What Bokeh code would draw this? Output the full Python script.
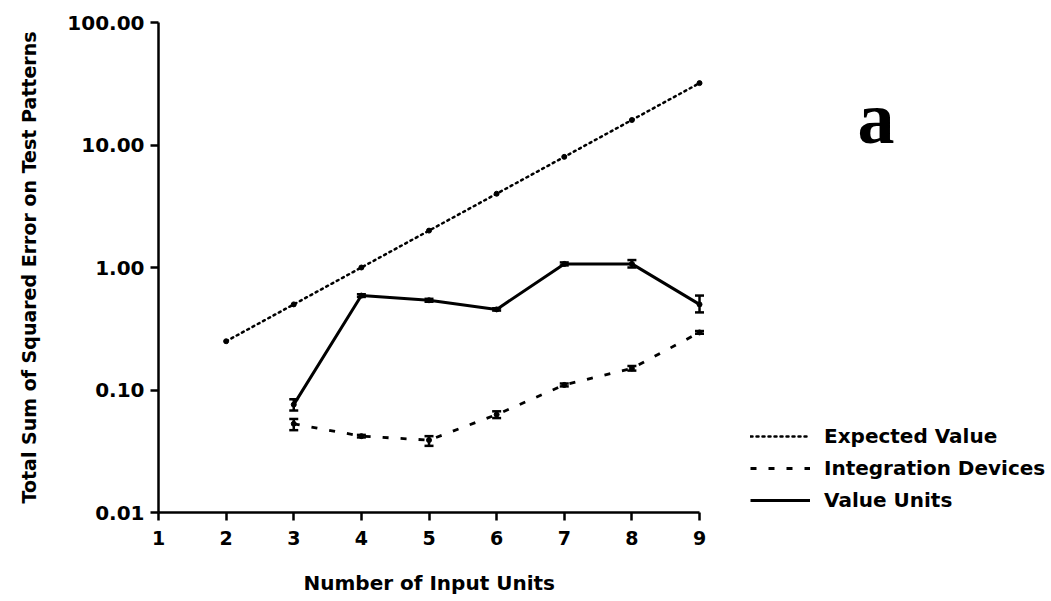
from bokeh.plotting import figure
from bokeh.models import (Range1d, FixedTicker, NumeralTickFormatter, Legend, LegendItem,
                          Label, Whisker, ColumnDataSource, TeeHead, Title)
from bokeh.embed import file_html
from bokeh.resources import INLINE

# ---- data ----
expected_x = [2, 3, 4, 5, 6, 7, 8, 9]
expected_y = [0.25, 0.5, 1.0, 2.0, 4.0, 8.0, 16.0, 32.0]

units_x = [3, 4, 5, 6, 7, 8, 9]
integration_y = [0.053, 0.042, 0.039, 0.063, 0.11, 0.15, 0.295]
integration_lo = [0.047, 0.041, 0.035, 0.059, 0.107, 0.144, 0.288]
integration_hi = [0.058, 0.043, 0.042, 0.067, 0.113, 0.157, 0.303]

value_y = [0.076, 0.59, 0.54, 0.455, 1.07, 1.07, 0.5]
value_lo = [0.068, 0.575, 0.525, 0.445, 1.04, 1.0, 0.43]
value_hi = [0.084, 0.605, 0.555, 0.465, 1.1, 1.15, 0.59]

x_ticks = [1, 2, 3, 4, 5, 6, 7, 8, 9]
y_ticks = [0.01, 0.1, 1, 10, 100]

FONT = "DejaVu Sans"

p = figure(width=1051, height=601, y_axis_type="log",
           x_range=Range1d(1, 14.116), y_range=Range1d(0.01, 100),
           output_backend="svg", toolbar_location=None,
           min_border_left=158, min_border_right=6, min_border_top=22, min_border_bottom=88)
p.outline_line_color = None
p.xgrid.visible = False
p.ygrid.visible = False
p.background_fill_color = "white"
p.border_fill_color = "white"

for ax in (p.xaxis[0], p.yaxis[0]):
    ax.axis_line_width = 2.5
    ax.axis_line_color = "black"
    ax.major_tick_line_width = 2.5
    ax.major_tick_out = 8
    ax.major_tick_in = 0
    ax.minor_tick_out = 0
    ax.minor_tick_in = 0
    ax.major_label_text_font = FONT
    ax.major_label_text_font_style = "bold"
    ax.major_label_text_color = "black"
    ax.major_label_text_font_size = "19px"

p.xaxis.ticker = FixedTicker(ticks=x_ticks)
p.xaxis.bounds = (1, 9)
p.xaxis.major_label_standoff = 10
# small blank spacer label so the title below sits lower
p.xaxis.axis_label = " "
p.xaxis.axis_label_text_font_size = "10px"
p.xaxis.axis_label_standoff = 0

p.yaxis.ticker = FixedTicker(ticks=y_ticks)
p.yaxis.formatter = NumeralTickFormatter(format="0.00")
p.yaxis.major_label_text_font_size = "20px"
p.yaxis.major_label_standoff = 6
p.yaxis.axis_label = "Total Sum of Squared Error on Test Patterns"
p.yaxis.axis_label_text_font = FONT
p.yaxis.axis_label_text_font_style = "bold"
p.yaxis.axis_label_text_font_size = "19px"
p.yaxis.axis_label_text_color = "black"
p.yaxis.axis_label_standoff = 24

# series
r_exp = p.line(expected_x, expected_y, line_color="black", line_width=2.5,
               line_dash="2 4", line_cap="round")
p.scatter(expected_x, expected_y, size=5, color="black")

r_int = p.line(units_x, integration_y, line_color="black", line_width=2.8, line_dash="6 12")
p.scatter(units_x, integration_y, size=5, color="black")

r_val = p.line(units_x, value_y, line_color="black", line_width=3)
p.scatter(units_x, value_y, size=5, color="black")

src_i = ColumnDataSource(dict(x=units_x, lo=integration_lo, hi=integration_hi))
src_v = ColumnDataSource(dict(x=units_x, lo=value_lo, hi=value_hi))
for src in (src_i, src_v):
    w = Whisker(source=src, base="x", lower="lo", upper="hi",
                line_color="black", line_width=2.5,
                upper_head=TeeHead(size=9, line_width=2.5, line_color="black"),
                lower_head=TeeHead(size=9, line_width=2.5, line_color="black"))
    p.add_layout(w)

legend = Legend(items=[
    LegendItem(label="Expected Value", renderers=[r_exp]),
    LegendItem(label="Integration Devices", renderers=[r_int]),
    LegendItem(label="Value Units", renderers=[r_val]),
], location=(592, 0))
legend.label_text_font = FONT
legend.label_text_font_style = "bold"
legend.label_text_font_size = "20px"
legend.label_text_color = "black"
legend.glyph_width = 60
legend.glyph_height = 20
legend.label_standoff = 14
legend.spacing = 8
legend.padding = 0
legend.margin = 0
legend.border_line_color = None
legend.background_fill_alpha = 0
p.add_layout(legend)

xlabel = Title(text="Number of Input Units", align="left", offset=145,
               text_font=FONT, text_font_style="bold", text_font_size="20px",
               text_color="black", standoff=14, vertical_align="bottom")
p.add_layout(xlabel, "below")

p.add_layout(Label(x=699, y=395, x_units="screen", y_units="screen", text="a",
                   text_font="Liberation Serif", text_font_style="bold",
                   text_font_size="74px", text_color="black", text_baseline="alphabetic"))

open("out.html", "w").write(file_html(p, INLINE))
